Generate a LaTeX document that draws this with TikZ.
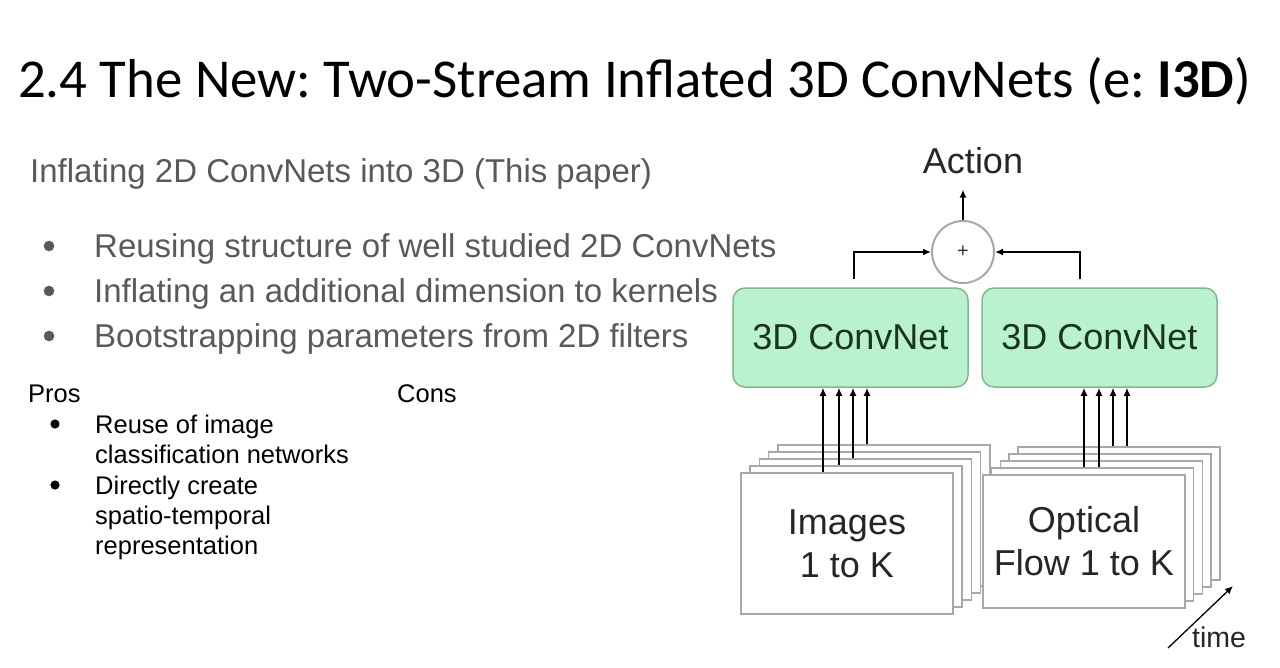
\documentclass[tikz,border=0pt]{standalone}
\usepackage{fontspec}
\setmainfont{Liberation Sans}
\newfontfamily\titlefont{Carlito}
\usetikzlibrary{arrows.meta,positioning}
\definecolor{bodygray}{HTML}{595959}
\definecolor{netfill}{HTML}{B9F2CC}
\definecolor{netdraw}{HTML}{86B592}
\definecolor{nettext}{HTML}{1A3322}
\definecolor{sheetdraw}{HTML}{A8A8A8}
\frenchspacing
\begin{document}
\begin{tikzpicture}[x=1pt,y=-1pt,
  every node/.style={inner sep=0pt},
  txt/.style={anchor=base west},
  bodytext/.style={txt,text=bodygray,font=\fontsize{33}{33}\selectfont},
  small/.style={txt,font=\fontsize{25.5}{30}\selectfont},
  net/.style={draw=netdraw,fill=netfill,line width=1.5pt,rounded corners=12pt,
    minimum width=235pt,minimum height=99pt,text=nettext,font=\fontsize{36}{36}\selectfont},
  sheet/.style={draw=sheetdraw,fill=white,line width=1.5pt,align=center,
    font=\fontsize{36}{43}\selectfont,text=black!85},
  arr/.style={-{Latex[length=8pt,width=7pt]},line width=1.6pt}
]
\useasboundingbox (0,0) rectangle (1280,667);

% title and bullets
\node[txt,font=\titlefont\fontsize{54.8}{54.8}\selectfont] (title) at (18,97)
  {2.4 The New: Two-Stream Inflated 3D ConvNets (e: \textbf{I3D})};
\node[bodytext] (sub) at (30,182) {Inflating 2D ConvNets into 3D (This paper)};
\foreach \y/\t [count=\k] in {257/Reusing structure of well studied 2D ConvNets,
    302/Inflating an additional dimension to kernels,
    347/Bootstrapping parameters from 2D filters}{
  \fill[bodygray] (49,\y-11) circle (5.3pt);
  \node[bodytext] (item\k) at (94,\y) {\t};
}
\node[small] (pros) at (28,402) {Pros};
\node[small] (cons) at (397,402) {Cons};
\fill (55,424) circle (4.6pt);
\fill (55,485) circle (4.6pt);
\foreach \y/\t [count=\k] in {433/Reuse of image, 463/classification networks,
    494/Directly create, 524/spatio-temporal, 554/representation}
  \node[small] (pro\k) at (95,\y) {\t};

% stacks of frames
\coordinate (imgc) at (847,543.5);
\foreach \i in {4,3,2,1}
  \node[sheet,minimum width=212pt,minimum height=141pt] (img\i) at ([shift={(9.2*\i,-7*\i)}]imgc) {};
\node[sheet,minimum width=212pt,minimum height=141pt] (img0) at (imgc) {Images\\1 to K};
\coordinate (flowc) at (1084,541.5);
\foreach \i in {4,3,2,1}
  \node[sheet,minimum width=202pt,minimum height=133pt] (flow\i) at ([shift={(8.7*\i,-7*\i)}]flowc) {};
\node[sheet,minimum width=202pt,minimum height=133pt] (flow0) at (flowc) {Optical\\Flow 1 to K};

% the two streams
\node[net] (net1) at (850.5,337.5) {3D ConvNet};
\node[net] (net2) at (1099.5,337.5) {3D ConvNet};
\node[draw=sheetdraw,line width=2pt,circle,minimum size=62pt,text=black!80,
  font=\fontsize{20}{20}\selectfont] (plus) at (963,252) {+};
\node[font=\fontsize{36}{36}\selectfont,anchor=base,text=black!85] (action) at (973,173) {Action};

\foreach \x/\s in {823/0,839/1,853/2,867/4}
  \draw[arr] (\x,0 |- img\s.north) -- (\x,0 |- net1.south);
\foreach \x/\s in {1084/1,1099/1,1113/4,1127/4}
  \draw[arr] (\x,0 |- flow\s.north) -- (\x,0 |- net2.south);
\draw[arr] ([xshift=3.5pt,yshift=8pt]net1.north) |- (plus.west);
\draw[arr] ([xshift=-19.5pt,yshift=8pt]net2.north) |- (plus.east);
\draw[arr,shorten >=16pt] (plus.north) -- (plus.north |- action.south);

% time axis
\coordinate (t0) at (1168,648);
\coordinate (t1) at (1233,586);
\draw[arr,line width=1.3pt] (t0) -- (t1);
\node[txt,font=\fontsize{28.5}{28.5}\selectfont,text=black!85] (time) at (1192,647) {time};
\end{tikzpicture}
\end{document}
